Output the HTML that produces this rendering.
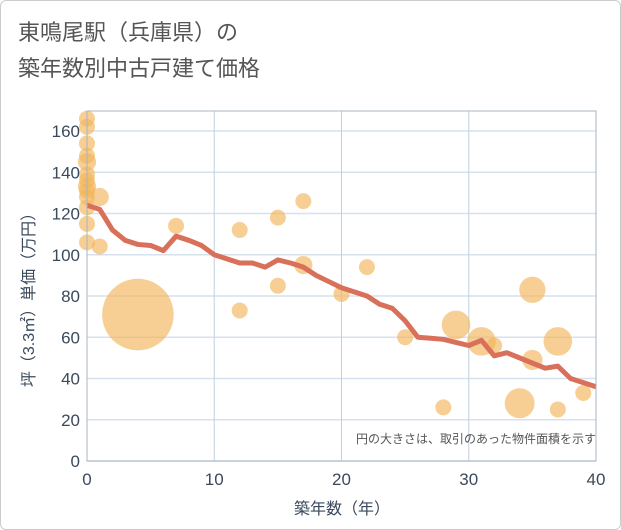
<!DOCTYPE html>
<html><head><meta charset="utf-8"><style>
body{margin:0;background:#fff;}
.wrap{position:relative;width:619px;height:528px;border:1px solid #ccc;border-radius:6px;background:#fff;font-family:"Liberation Sans","Noto Sans CJK JP",sans-serif;}
</style></head><body>
<div class="wrap">
<svg id="chart" width="621" height="530" style="position:absolute;left:-1px;top:-1px">
<text x="18" y="40" font-size="22" fill="#555" font-family="Liberation Sans,Noto Sans CJK JP,sans-serif">東鳴尾駅（兵庫県）の</text>
<text x="18" y="76" font-size="22" fill="#555" font-family="Liberation Sans,Noto Sans CJK JP,sans-serif">築年数別中古戸建て価格</text>
<g id="grid"></g><g id="bubbles"></g><g id="line"></g><g id="axes"></g>
<text x="596" y="443" font-size="12" fill="#555" text-anchor="end" font-family="Liberation Sans,Noto Sans CJK JP,sans-serif">円の大きさは、取引のあった物件面積を示す</text>
<text x="342" y="514" font-size="16" fill="#3a4a5c" text-anchor="middle" font-family="Liberation Sans,Noto Sans CJK JP,sans-serif">築年数（年）</text>
<text transform="translate(34,296) rotate(-90)" font-size="16" fill="#3a4a5c" text-anchor="middle" font-family="Liberation Sans,Noto Sans CJK JP,sans-serif">坪（3.3㎡）単価（万円）</text>
</svg>
</div>
<script>
const xTicks=[0,10,20,30,40];
const yTicks=[0,20,40,60,80,100,120,140,160];
const lineYears=[0,1,2,3,4,5,6,7,8,9,10,11,12,13,14,15,16,17,18,19,20,21,22,23,24,25,26,27,28,29,30,31,32,33,34,35,36,37,38,39,40];
const lineValues=[124,122,112,107,105,104.5,102,109,107,104.5,100,98,96,96,94,97.5,96,94,90,87,84,82,80,76,74,68,60,59.5,59,57.5,56,58.5,51,52.5,50,47.5,45,46,40,38,36];
const bubbleYears=[0,0,0,0,0,0,0,0,0,0,0,0,0,1,1,4,7,12,12,15,15,17,17,20,22,25,28,29,31,32,34,35,35,37,37,39];
const bubbleValues=[166,162,154,148,145,139,136,133,131,128,123,115,106,128,104,71,114,112,73,118,85,126,95,81,94,60,26,66,58,56,28,83,49,58,25,33];
const bubbleSizes=[1,1,1,1,1.3,1,1,1.3,1,1,1,1,1,1.3,1,20,1,1,1,1,1,1,1.3,1,1,1,1,3.2,3.2,1,3.5,2.7,1.6,3.2,1,1];
const X0=87,X1=596,Y0=461,Y1=131;
const sx=v=>X0+(v-0)/(40-0)*(X1-X0);
const sy=v=>Y0-(v/160)*(Y0-Y1);
const NS="http://www.w3.org/2000/svg";
function mk(t,a,p){const e=document.createElementNS(NS,t);for(const k in a)e.setAttribute(k,a[k]);p.appendChild(e);return e;}
const grid=document.getElementById('grid'),axes=document.getElementById('axes');
yTicks.forEach(v=>{
 const l=mk('line',{x1:X0,x2:X1,y1:sy(v),y2:sy(v),stroke:'#d6e2ee','stroke-width':1.5},grid);
 
 
 const t=mk('text',{x:X0-7,y:sy(v)+6,'text-anchor':'end','font-size':17,fill:'#3a4a5c'},axes);
 t.textContent=v;
 
 
});
xTicks.forEach(v=>{
 const l=mk('line',{x1:sx(v),x2:sx(v),y1:Y1-20,y2:Y0,stroke:'#c4d0de','stroke-width':1},grid);
 
 
 const t=mk('text',{x:sx(v),y:Y0+24,'text-anchor':'middle','font-size':17,fill:'#3a4a5c'},axes);
 t.textContent=v;
 
 
});
const fr=mk('rect',{x:X0,y:Y1-20,width:X1-X0,height:Y0-Y1+20,fill:'none',stroke:'#aab4c0','stroke-width':1},axes);


const bg=document.getElementById('bubbles');
bubbleYears.forEach((y,i)=>{
 const c=mk('circle',{cx:sx(y),cy:sy(bubbleValues[i]),r:8*Math.sqrt(bubbleSizes[i]),fill:'#f2b65a','fill-opacity':0.65},bg);
 
 
});
const pts=lineYears.map((y,i)=>sx(y)+','+sy(lineValues[i])).join(' ');
const pl=mk('polyline',{points:pts,fill:'none',stroke:'#d9705a','stroke-width':5,'stroke-linejoin':'round'},document.getElementById('line'));


</script>
</body></html>
